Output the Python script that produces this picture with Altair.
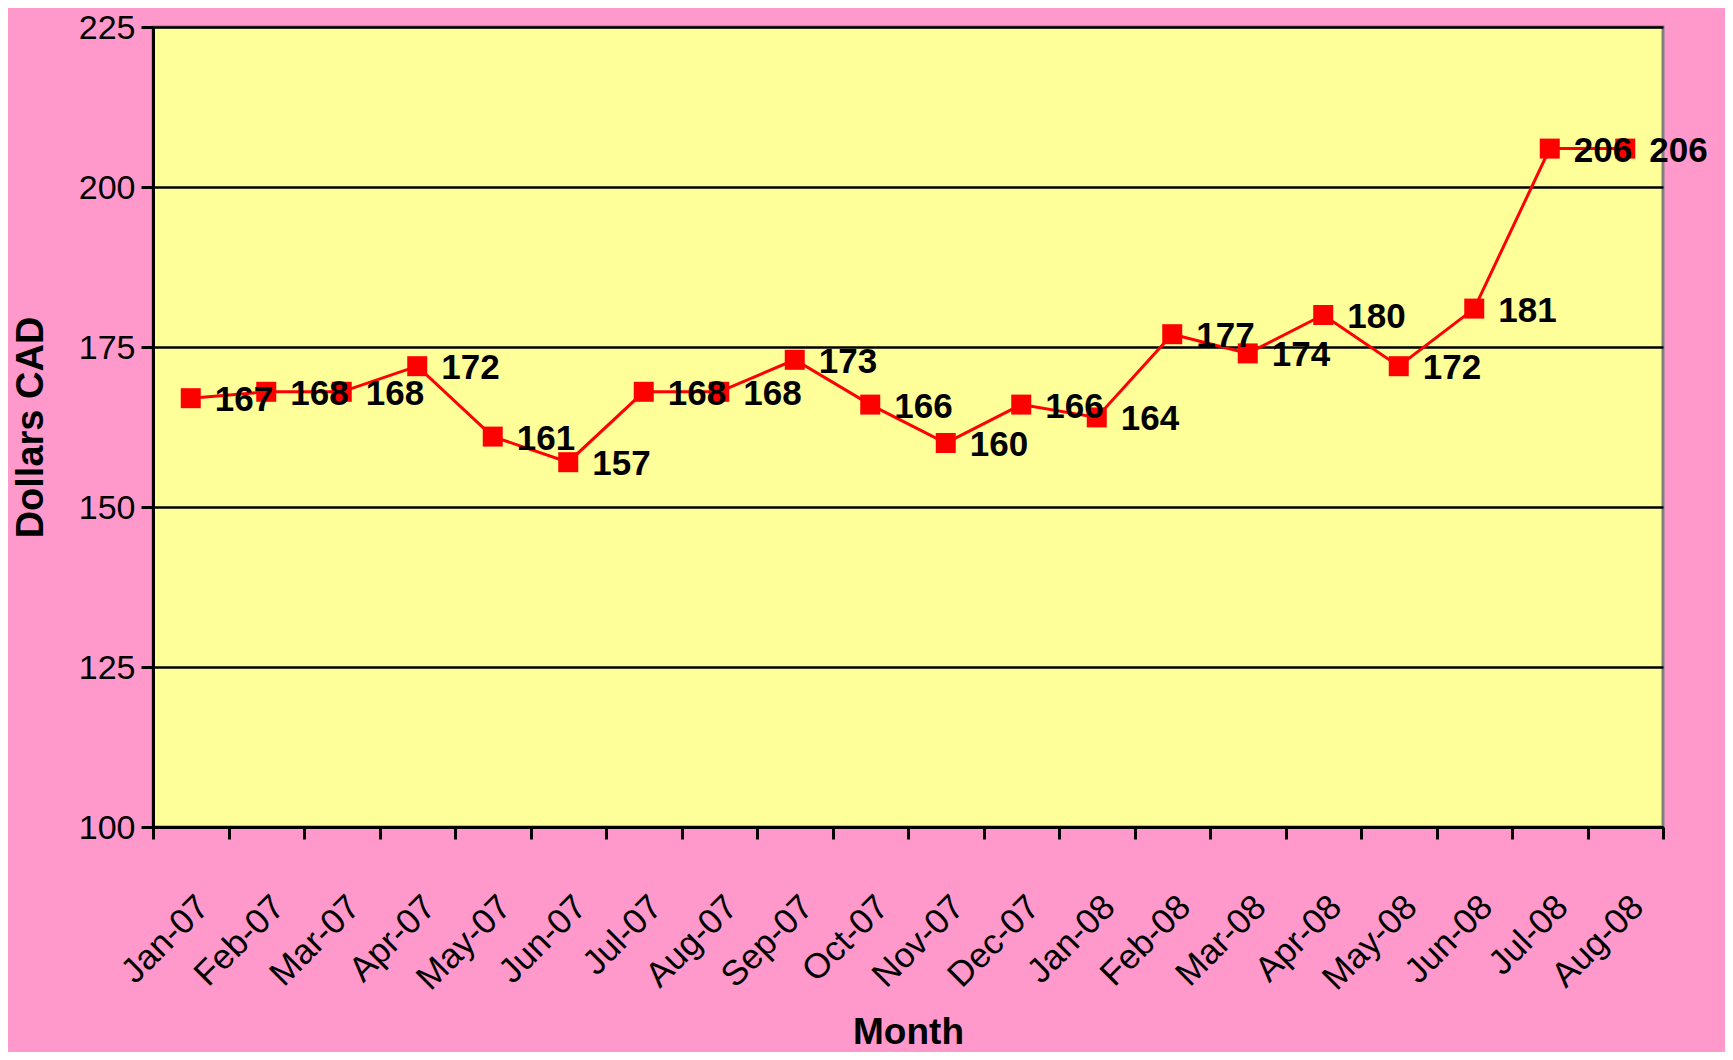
import altair as alt
import pandas as pd

months = ["Jan-07", "Feb-07", "Mar-07", "Apr-07", "May-07", "Jun-07", "Jul-07",
          "Aug-07", "Sep-07", "Oct-07", "Nov-07", "Dec-07", "Jan-08", "Feb-08",
          "Mar-08", "Apr-08", "May-08", "Jun-08", "Jul-08", "Aug-08"]
prices = [167, 168, 168, 172, 161, 157, 168, 168, 173, 166, 160, 166, 164, 177,
          174, 180, 172, 181, 206, 206]
y_ticks = [100, 125, 150, 175, 200, 225]

df = pd.DataFrame({"Month": months, "Price": prices})

FONT = "Liberation Sans"

x_enc = alt.X("Month:O", sort=months,
              scale=alt.Scale(type="band", paddingInner=0, paddingOuter=0),
              axis=alt.Axis(title="Month", labelAngle=-45, tickBand="extent",
                            labelFontSize=35, labelFont=FONT, labelColor="black",
                            labelPadding=50, tickSize=12, tickWidth=3, tickColor="black",
                            domainColor="black", domainWidth=3, grid=False,
                            titleFont=FONT, titleFontSize=37, titleFontWeight="bold",
                            titleColor="black", titleY=216, titleBaseline="alphabetic"))
y_enc = alt.Y("Price:Q", scale=alt.Scale(domain=[100, 225], nice=False, zero=False),
              axis=alt.Axis(title="Dollars CAD", values=y_ticks, labelFontSize=34,
                            labelOffset=1.5,
                            labelFont=FONT, labelColor="black", labelPadding=6,
                            tickSize=12, tickWidth=3, tickColor="black",
                            domainColor="black", domainWidth=3,
                            grid=True, gridColor="black", gridWidth=2.5,
                            titleFont=FONT, titleFontSize=38, titleFontWeight="bold",
                            titleColor="black", titleX=-122, titleY=400,
                            titleAngle=-90, titleAlign="center", titleBaseline="middle"))

base = alt.Chart(df).encode(x=x_enc, y=y_enc)

line = base.mark_line(color="#FF0000", strokeWidth=3)
pts = base.mark_square(color="#FF0000", size=400, opacity=1)
txt = base.mark_text(align="left", baseline="middle", dx=24, dy=2, fontSize=35,
                     fontWeight="bold", font=FONT, color="black").encode(text="Price:Q")

chart = (line + pts + txt).properties(
    width=1510, height=800, background="#FF99CC",
    autosize=alt.AutoSizeParams(type="none"),
    padding={"left": 145, "top": 19, "right": 62, "bottom": 225},
).configure_view(fill="#FFFF99", stroke="#808080", strokeWidth=3)

chart.save("out.html", embed_options={"renderer": "svg", "actions": False})
